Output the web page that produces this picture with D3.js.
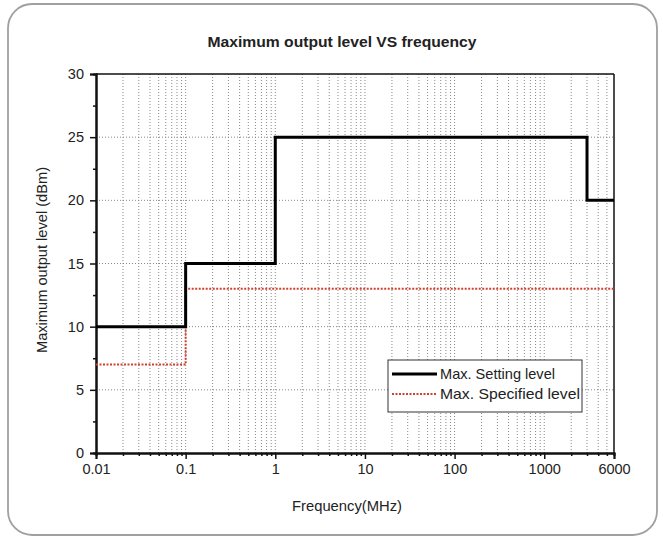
<!DOCTYPE html>
<html><head><meta charset="utf-8">
<script src="https://cdn.jsdelivr.net/npm/d3@7"></script>
<style>body{margin:0;background:#fff}svg{display:block}text{font-family:"Liberation Sans",Arial,sans-serif}</style>
</head><body>
<svg id="c" width="663" height="539"></svg>
<script>
const title = "Maximum output level VS frequency";
const xLabel = "Frequency(MHz)";
const yLabel = "Maximum output level (dBm)";
const xTickValues = [0.01, 0.1, 1, 10, 100, 1000, 6000];
const xTickLabels = ["0.01", "0.1", "1", "10", "100", "1000", "6000"];
const yTickValues = [0, 5, 10, 15, 20, 25, 30];
const settingFreq = [0.01, 0.1, 1, 3000, 6000];
const settingLevel = [10, 15, 25, 20, 20];
const specifiedFreq = [0.01, 0.1, 6000];
const specifiedLevel = [7, 13, 13];
const legendNames = ["Max. Setting level", "Max. Specified level"];

const svg = d3.select("#c");
const L = 96, R = 614, T = 74, B = 453;
const x = d3.scaleLog().domain([0.01, 6000]).range([L, R]);
const y = d3.scaleLinear().domain([0, 30]).range([B, T]);

// frame
svg.append("rect").attr("x", 8).attr("y", 4).attr("width", 649).attr("height", 531)
  .attr("rx", 24).attr("fill", "#fff").attr("stroke", "#a0a0a0").attr("stroke-width", 1.8);

// title
svg.append("text").attr("x", 342).attr("y", 47).attr("text-anchor", "middle")
  .attr("font-size", 15.5).attr("font-weight", "bold").attr("fill", "#222")
  .attr("textLength", 269).attr("lengthAdjust", "spacingAndGlyphs").text(title);

// grid
const gridX = [];
for (let e = -2; e <= 3; e++) for (let m = 1; m <= 9; m++) {
  const v = m * Math.pow(10, e);
  if (v > 0.01 && v < 6000) gridX.push(v);
}
svg.append("g").selectAll("line").data(gridX).join("line")
  .attr("x1", d => x(d)).attr("x2", d => x(d)).attr("y1", T).attr("y2", B)
  .attr("stroke", "#888").attr("stroke-width", 1).attr("stroke-dasharray", "1,2");
svg.append("g").selectAll("line").data([5, 10, 15, 20, 25]).join("line")
  .attr("x1", L).attr("x2", R).attr("y1", d => y(d)).attr("y2", d => y(d))
  .attr("stroke", "#888").attr("stroke-width", 1).attr("stroke-dasharray", "1,2");

// box top/right
svg.append("line").attr("x1", L).attr("x2", R).attr("y1", T).attr("y2", T).attr("stroke", "#111").attr("stroke-width", 1.5);
svg.append("line").attr("x1", R).attr("x2", R).attr("y1", T).attr("y2", B).attr("stroke", "#111").attr("stroke-width", 1.5);

// axes
const yAxis = svg.append("g").attr("transform", `translate(${L},0)`)
  .call(d3.axisLeft(y).tickValues(yTickValues).tickSize(6).tickPadding(6));
const yMinor = svg.append("g").attr("transform", `translate(${L},0)`)
  .call(d3.axisLeft(y).tickValues([2.5, 7.5, 12.5, 17.5, 22.5, 27.5]).tickSize(3).tickFormat(""));
const xAxis = svg.append("g").attr("transform", `translate(0,${B})`)
  .call(d3.axisBottom(x).tickValues(xTickValues).tickFormat((d, i) => xTickLabels[i]).tickSize(6).tickPadding(5));
const xMinor = svg.append("g").attr("transform", `translate(0,${B})`)
  .call(d3.axisBottom(x).tickValues(gridX.filter(v => xTickValues.indexOf(v) < 0)).tickSize(3).tickFormat(""));
[yAxis, yMinor, xAxis, xMinor].forEach(g => {
  g.select(".domain").attr("stroke", "#111").attr("stroke-width", 2);
  g.selectAll(".tick line").attr("stroke", "#111").attr("stroke-width", 1.5);
  g.selectAll(".tick text").attr("font-size", 14.5).attr("fill", "#222").attr("font-family", "Liberation Sans, Arial, sans-serif");
});

// axis labels
svg.append("text").attr("x", 347).attr("y", 511).attr("text-anchor", "middle")
  .attr("font-size", 15).attr("fill", "#222")
  .attr("textLength", 110).attr("lengthAdjust", "spacingAndGlyphs").text(xLabel);
svg.append("text").attr("transform", "translate(47,260) rotate(-90)").attr("text-anchor", "middle")
  .attr("font-size", 14).attr("fill", "#222")
  .attr("textLength", 186).attr("lengthAdjust", "spacingAndGlyphs").text(yLabel);

// data lines
const settingData = settingFreq.map((f, i) => [f, settingLevel[i]]);
const specifiedData = specifiedFreq.map((f, i) => [f, specifiedLevel[i]]);
const line = d3.line().x(d => x(d[0])).y(d => y(d[1])).curve(d3.curveStepAfter);
svg.append("path").datum(specifiedData).attr("d", line).attr("fill", "none")
  .attr("stroke", "#d0402e").attr("stroke-width", 2).attr("stroke-dasharray", "2,1.5");
svg.append("path").datum(settingData).attr("d", line).attr("fill", "none")
  .attr("stroke", "#000").attr("stroke-width", 3);

// legend
const lg = svg.append("g");
lg.append("rect").attr("x", 388).attr("y", 360).attr("width", 194).attr("height", 52)
  .attr("fill", "#fff").attr("stroke", "#333").attr("stroke-width", 1);
const styles = [{c: "#000", w: 3, d: null, len: 115}, {c: "#d0402e", w: 2, d: "2,1.5", len: 140}];
legendNames.forEach((n, i) => {
  const yy = 374 + i * 20;
  lg.append("line").attr("x1", 392).attr("x2", 437).attr("y1", yy).attr("y2", yy)
    .attr("stroke", styles[i].c).attr("stroke-width", styles[i].w).attr("stroke-dasharray", styles[i].d);
  lg.append("text").attr("x", 440).attr("y", yy + 5).attr("font-size", 14.3).attr("fill", "#222")
    .attr("textLength", styles[i].len).attr("lengthAdjust", "spacingAndGlyphs").text(n);
});
</script>
</body></html>
